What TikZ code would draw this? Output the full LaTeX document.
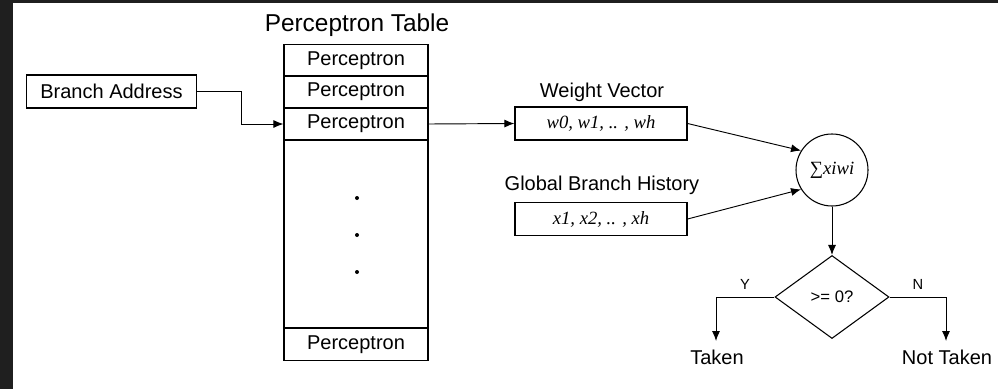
\documentclass[tikz,border=0pt]{standalone}
\usepackage{fontspec}
\setmainfont{Liberation Sans}
\newfontfamily\tnr{Liberation Serif}
\usetikzlibrary{shapes.geometric,arrows.meta}
\definecolor{framegray}{HTML}{1F1F1F}

\begin{document}
\begin{tikzpicture}[x=0.75pt, y=-0.75pt,
  cell/.style={draw, line width=0.9pt, inner sep=0pt, minimum width=108pt, minimum height=24pt, font=\fontsize{15}{18}\selectfont},
  vecbox/.style={draw, line width=0.9pt, inner sep=0pt, minimum width=129pt, minimum height=24.75pt, font=\tnr\itshape\fontsize{14}{16}\selectfont},
  lbl/.style={font=\fontsize{15}{18}\selectfont, inner sep=0pt},
  yn/.style={font=\fontsize{11}{13}\selectfont, inner sep=0pt},
  wire/.style={line width=0.7pt, -{Latex[length=7.5pt,width=6pt]}}]
  \fill[framegray] (0,0) rectangle (998,389);
  \fill[white] (13,3) rectangle (998,389);
  \useasboundingbox (0,0) rectangle (998,389);
  % the table
  \node[lbl, font=\fontsize{18.3}{22}\selectfont] (title) at (357,25) {Perceptron Table};
  \node[cell] (p1) at (356,60.5) {Perceptron};
  \node[cell] (p2) at (356,92) {Perceptron};
  \node[cell] (p3) at (356,124) {Perceptron};
  \node[cell, minimum height=141pt] (body) at (356,234) {};
  \node[cell] (pn) at (356,344.5) {Perceptron};
  \foreach \y in {198,235,272}
    \fill (357,\y) circle (1.5pt);
  % address lookup
  \node[cell, minimum width=128pt, minimum height=24.75pt] (addr) at (111.5,91.5) {Branch Address};
  \draw[wire] (addr.east) -- ++(44,0) |- (p3.west);
  % inputs
  \node[vecbox] (wv) at (601,123.5) {w0, w1, .. , wh};
  \node[lbl] (wvlbl) at (602,92) {Weight Vector};
  \node[vecbox] (gh) at (601,219) {x1, x2, .. , xh};
  \node[lbl] (ghlbl) at (602,185) {Global Branch History};
  \draw[wire] (p3.east) -- (wv.west);
  % dot product and decision
  \node[draw, circle, line width=0.8pt, minimum size=54pt, inner sep=0pt, font=\tnr\fontsize{14}{16}\selectfont] (sum) at (832,170) {∑\itshape xiwi};
  \draw[wire] (wv.east) -- (sum.148);
  \draw[wire] (gh.east) -- (sum.212);
  \node[draw, diamond, line width=0.8pt, minimum width=85.5pt, minimum height=62.25pt, inner sep=0pt, font=\fontsize{12.5}{14}\selectfont] (test) at (832,297) {>= 0?};
  \draw[wire] (sum) -- (test);
  \coordinate (ytip) at (716,341);
  \coordinate (ntip) at (946,341);
  \draw[wire] (test.west) -| (ytip);
  \draw[wire] (test.east) -| (ntip);
  \node[yn] (ylbl) at (745,284) {Y};
  \node[yn] (nlbl) at (918,284) {N};
  \node[lbl] (taken) at (717,357) {Taken};
  \node[lbl] (nottaken) at (947,357) {Not Taken};
\end{tikzpicture}
\end{document}
